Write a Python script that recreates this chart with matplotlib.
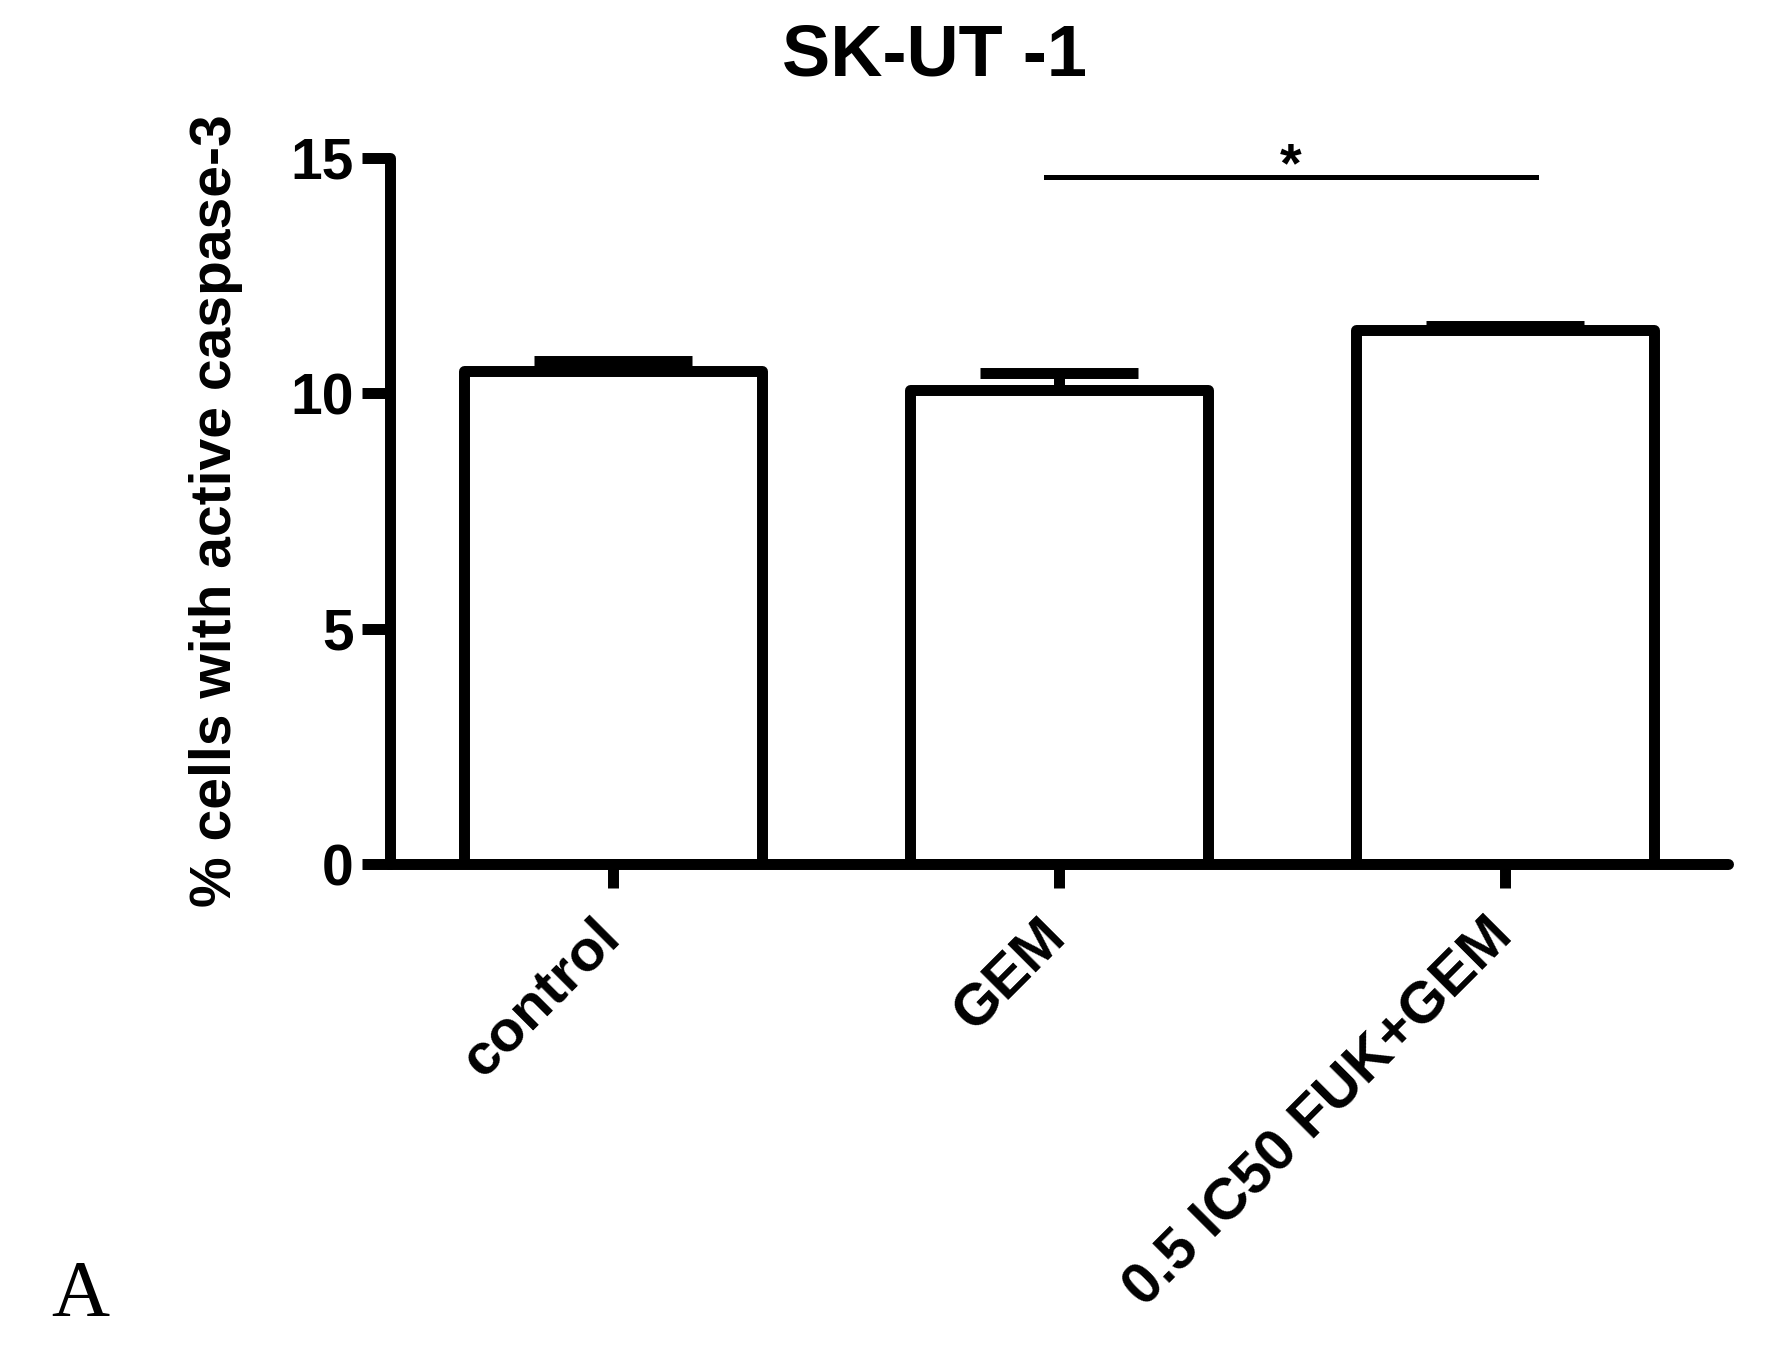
import numpy as np
import matplotlib
matplotlib.use("Agg")
import matplotlib.pyplot as plt
from matplotlib.transforms import ScaledTranslation

# data
groups = ["control", "GEM", "0.5 IC50 FUK+GEM"]
means = [10.48, 10.07, 11.35]
sem = [0.20, 0.36, 0.09]
sig_pair = (0.97, 2.07)
sig_y = 14.6
sig_label = "*"
title = "SK-UT -1"
ylabel = "% cells with active caspase-3"
yticks = [0, 5, 10, 15]

plt.rcParams['font.family'] = ['Liberation Sans', 'DejaVu Sans']
plt.rcParams['font.weight'] = 'bold'

fig = plt.figure(figsize=(17.83, 13.49), dpi=100)
ax = fig.add_axes([390/1783, 1 - 864/1349, (1728-390)/1783, (864-158)/1349])

lw = 7.9
x = np.arange(len(groups))
ax.bar(x, means, width=0.67, color='white', edgecolor='black', linewidth=lw,
       joinstyle='round', zorder=2)
ax.errorbar(x, means, yerr=[np.zeros(len(sem)), sem], fmt='none', ecolor='black',
            elinewidth=lw, capsize=57, capthick=lw, zorder=1)

ax.set_xlim(-0.5, 2.5)
ax.set_ylim(0, 15)
ax.set_yticks(yticks)
ax.set_xticks(x)
ax.set_xticklabels(groups, rotation=45, ha='right', rotation_mode='anchor',
                   fontsize=42, fontweight='bold')
ax.tick_params(axis='y', length=20, width=lw, labelsize=41, pad=6)
ax.tick_params(axis='x', length=17, width=lw, pad=18)
for lab in ax.get_yticklabels():
    lab.set_fontweight('bold')
shift = ScaledTranslation(-0.2, 0.04, fig.dpi_scale_trans)
for lab in ax.get_xticklabels():
    lab.set_transform(lab.get_transform() + shift)

for s in ['top', 'right']:
    ax.spines[s].set_visible(False)
for s in ['left', 'bottom']:
    ax.spines[s].set_linewidth(lw)
    ax.spines[s].set_capstyle('round')
    ax.spines[s].set_zorder(3)

ax.set_ylabel(ylabel, fontsize=41, fontweight='bold', labelpad=34)

# significance bracket
ax.plot(sig_pair, [sig_y, sig_y], color='black', linewidth=3.6, clip_on=False)
ax.text(np.mean(sig_pair), sig_y - 0.1, sig_label, ha='center', va='baseline',
        fontsize=40, fontweight='bold')

fig.text(822/1568, 1 - 50/1186, title, ha='center', va='center',
         fontsize=52, fontweight='bold')
fig.text(80/1783, 1 - 1297/1349, "A", ha='center', va='center',
         fontsize=58, family=['Liberation Serif', 'DejaVu Serif'], fontweight='normal')

fig.savefig("out.png", dpi=100)
